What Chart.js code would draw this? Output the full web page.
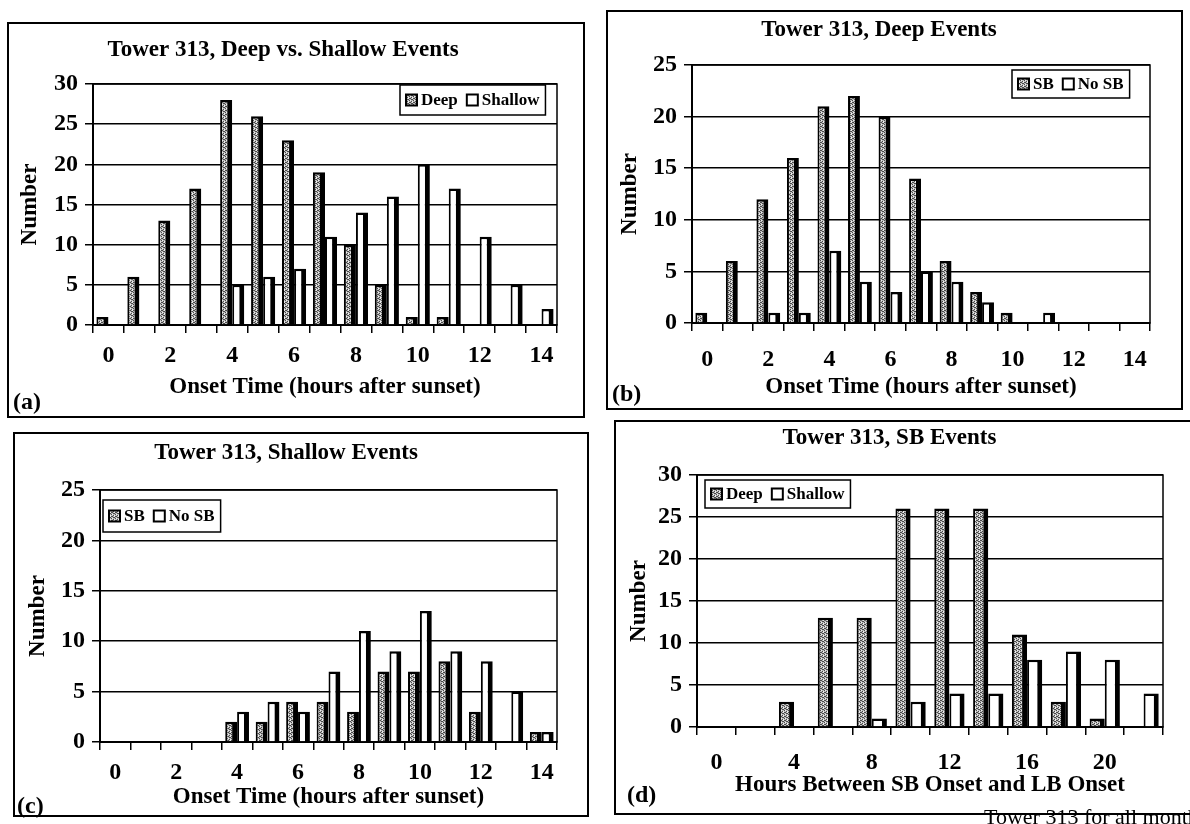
<!DOCTYPE html>
<html>
<head>
<meta charset="utf-8">
<script src="https://cdn.jsdelivr.net/npm/chart.js@4.4.0/dist/chart.umd.js"></script>
<style>
    html, body { margin: 0; padding: 0; background: #fff; }
    body { width: 1190px; height: 824px; position: relative; overflow: hidden; font-family: 'Liberation Serif', 'Times New Roman', serif; }
    .panel { position: absolute; border: 2px solid #000; box-sizing: border-box; background: #fff; }
    .panel canvas { position: absolute; left: 0; top: 0; }
    .tag { position: absolute; font-weight: bold; font-size: 24px; line-height: 1; color: #000; }
    .caption { position: absolute; left: 984px; top: 804px; font-size: 22px; white-space: nowrap; color: #000; }
</style>
</head>
<body>
<div class="panel" id="pa"><canvas id="ca"></canvas></div>
<div class="panel" id="pb"><canvas id="cb"></canvas></div>
<div class="panel" id="pc"><canvas id="cc"></canvas></div>
<div class="panel" id="pd"><canvas id="cd"></canvas></div>
<div class="tag" style="left:13px; top:389px;">(a)</div>
<div class="tag" style="left:612px; top:381px;">(b)</div>
<div class="tag" style="left:17px; top:793px;">(c)</div>
<div class="tag" style="left:627px; top:782px;">(d)</div>
<div class="caption">Tower 313 for all months</div>
<script>
// Onset time categories (hours after sunset)
const onsetHours = ['0', '1', '2', '3', '4', '5', '6', '7', '8', '9', '10', '11', '12', '13', '14'];
// (a) all events
const deepAll    = [1, 6, 13, 17, 28, 26, 23, 19, 10, 5, 1, 1, 0, 0, 0];
const shallowAll = [0, 0, 0, 0, 5, 6, 7, 11, 14, 16, 20, 17, 11, 5, 2];
// (b) deep events
const deepSB   = [1, 6, 12, 16, 21, 22, 20, 14, 6, 3, 1, 0, 0, 0, 0];
const deepNoSB = [0, 0, 1, 1, 7, 4, 3, 5, 4, 2, 0, 1, 0, 0, 0];
// (c) shallow events
const shallowSB   = [0, 0, 0, 0, 2, 2, 4, 4, 3, 7, 7, 8, 3, 0, 1];
const shallowNoSB = [0, 0, 0, 0, 3, 4, 3, 7, 11, 9, 13, 9, 8, 5, 1];
// (d) hours between SB onset and LB onset
const lagHours  = ['0', '2', '4', '6', '8', '10', '12', '14', '16', '18', '20', '22'];
const sbDeep    = [0, 0, 3, 13, 13, 26, 26, 26, 11, 3, 1, 0];
const sbShallow = [0, 0, 0, 0, 1, 3, 4, 4, 8, 9, 8, 4];

const FONT = "'Liberation Serif', 'Times New Roman', serif";

// stippled grey fill like the scanned bars
function stipple() {
    const c = document.createElement('canvas');
    c.width = 4; c.height = 4;
    const g = c.getContext('2d');
    g.fillStyle = '#bdbdbd';
    g.fillRect(0, 0, 4, 4);
    g.fillStyle = '#4a4a4a';
    [[0, 0], [2, 1], [1, 2], [3, 3], [2, 3], [0, 2]].forEach(([x, y]) => g.fillRect(x, y, 1, 1));
    g.fillStyle = '#ececec';
    [[1, 0], [3, 1], [3, 2]].forEach(([x, y]) => g.fillRect(x, y, 1, 1));
    return g.createPattern(c, 'repeat');
}
const GREY = stipple();

// frame around the plot area
const plotFrame = {
    id: 'plotFrame',
    beforeDatasetsDraw(chart) {
        const { ctx, chartArea: a } = chart;
        ctx.save();
        ctx.strokeStyle = '#000';
        ctx.lineWidth = 1.5;
        ctx.strokeRect(a.left, a.top, a.right - a.left, a.bottom - a.top);
        ctx.restore();
    }
};

// boxed legend drawn inside the plot
const boxLegend = {
    id: 'boxLegend',
    afterDraw(chart, args, opts) {
        const ctx = chart.ctx;
        ctx.save();
        ctx.font = `bold 17px ${FONT}`;
        const pad = 6, sw = 11, gap = 4, sep = 9;
        const items = chart.data.datasets.map(ds => ({ ds, tw: ctx.measureText(ds.label).width }));
        const w = pad * 2 + items.reduce((s, it) => s + sw + gap + it.tw, 0) + sep * (items.length - 1);
        const h = opts.h;
        ctx.fillStyle = '#fff';
        ctx.fillRect(opts.x, opts.y, w, h);
        ctx.strokeStyle = '#000';
        ctx.lineWidth = 1.5;
        ctx.strokeRect(opts.x, opts.y, w, h);
        let x = opts.x + pad;
        const cy = opts.y + h / 2;
        items.forEach(it => {
            ctx.fillStyle = it.ds.backgroundColor;
            ctx.fillRect(x, cy - sw / 2, sw, sw);
            ctx.lineWidth = 2;
            ctx.strokeRect(x, cy - sw / 2, sw, sw);
            x += sw + gap;
            ctx.fillStyle = '#000';
            ctx.textBaseline = 'middle';
            ctx.fillText(it.ds.label, x, cy + 1);
            x += it.tw + sep;
        });
        ctx.restore();
    }
};

function barSet(label, data, fill) {
    return {
        label: label,
        data: data,
        backgroundColor: fill,
        borderColor: '#000',
        borderWidth: { left: 2, top: 2.5, right: 5, bottom: 0 },
        categoryPercentage: 0.78,
        barPercentage: 1.0
    };
}

// p: page coordinates of box, plot area and text centres
function makeChart(p, labels, datasets) {
    const el = document.getElementById('p' + p.id);
    el.style.left = p.box[0] + 'px';
    el.style.top = p.box[1] + 'px';
    el.style.width = p.box[2] + 'px';
    el.style.height = p.box[3] + 'px';
    const ox = p.box[0] + 2, oy = p.box[1] + 2;
    const W = p.box[2] - 4, H = p.box[3] - 4;
    const canvas = document.getElementById('c' + p.id);
    canvas.width = W; canvas.height = H;
    canvas.style.width = W + 'px'; canvas.style.height = H + 'px';

    const PL = p.plot[0] - ox, PT = p.plot[1] - oy, PR = p.plot[2] - ox, PB = p.plot[3] - oy;
    const tSize = 23, tLh = tSize * 1.2;
    const kSize = 24, kLh = kSize * 1.2;
    const aSize = 23, aLh = aSize * 1.2;
    const titleTop = (p.titleY - oy) - tLh / 2;

    new Chart(canvas, {
        type: 'bar',
        data: { labels: labels, datasets: datasets },
        options: {
            responsive: false,
            animation: false,
            layout: { padding: { left: 0, top: 0, bottom: 0, right: W - PR } },
            plugins: {
                legend: { display: false },
                tooltip: { enabled: false },
                title: {
                    display: true,
                    text: p.title,
                    color: '#000',
                    font: { family: FONT, size: tSize, weight: 'bold' },
                    padding: { top: titleTop, bottom: PT - titleTop - tLh }
                },
                boxLegend: { x: p.legend[0] - ox, y: p.legend[1] - oy, h: p.legend[2] }
            },
            scales: {
                x: {
                    grid: { display: true, drawOnChartArea: false, drawTicks: true, tickLength: 8, offset: true, color: '#000', lineWidth: 1.5 },
                    border: { display: true, color: '#000', width: 2 },
                    ticks: {
                        autoSkip: false,
                        maxRotation: 0,
                        color: '#000',
                        font: { family: FONT, size: kSize, weight: 'bold' },
                        padding: (p.tickY - oy) - PB - 8 - kLh / 2,
                        callback: function (val, idx) { return idx % 2 === 0 ? this.getLabelForValue(val) : ''; }
                    },
                    title: {
                        display: true,
                        text: p.xTitle,
                        color: '#000',
                        font: { family: FONT, size: aSize, weight: 'bold' },
                        padding: { top: 0, bottom: H - (p.xTitleY - oy) - aLh / 2 }
                    },
                    afterFit(scale) { scale.height = H - PB; }
                },
                y: {
                    min: 0,
                    max: p.yMax,
                    grid: { color: '#000', lineWidth: 1.5, drawTicks: true, tickLength: 8 },
                    border: { display: true, color: '#000', width: 2 },
                    ticks: {
                        stepSize: 5,
                        color: '#000',
                        padding: 7,
                        font: { family: FONT, size: kSize, weight: 'bold' }
                    },
                    title: {
                        display: true,
                        text: 'Number',
                        color: '#000',
                        font: { family: FONT, size: aSize, weight: 'bold' },
                        padding: { top: (p.yTitleX - ox) - aLh / 2, bottom: 0 }
                    },
                    afterFit(scale) { scale.width = PL; }
                }
            }
        },
        plugins: [plotFrame, boxLegend]
    });
}

makeChart({
    id: 'a', box: [7, 22, 578, 396], plot: [93, 84, 557, 325], yMax: 30,
    title: 'Tower 313, Deep vs. Shallow Events', titleY: 50, tickY: 356,
    xTitle: 'Onset Time (hours after sunset)', xTitleY: 387, yTitleX: 30, legend: [400, 85, 30]
}, onsetHours, [barSet('Deep', deepAll, GREY), barSet('Shallow', shallowAll, '#fff')]);

makeChart({
    id: 'b', box: [606, 10, 577, 400], plot: [692, 65, 1150, 323], yMax: 25,
    title: 'Tower 313, Deep Events', titleY: 30, tickY: 360,
    xTitle: 'Onset Time (hours after sunset)', xTitleY: 387, yTitleX: 630, legend: [1012, 70, 28]
}, onsetHours, [barSet('SB', deepSB, GREY), barSet('No SB', deepNoSB, '#fff')]);

makeChart({
    id: 'c', box: [13, 432, 576, 385], plot: [100, 490, 557, 742], yMax: 25,
    title: 'Tower 313, Shallow Events', titleY: 453, tickY: 773,
    xTitle: 'Onset Time (hours after sunset)', xTitleY: 797, yTitleX: 38, legend: [103, 500, 32]
}, onsetHours, [barSet('SB', shallowSB, GREY), barSet('No SB', shallowNoSB, '#fff')]);

makeChart({
    id: 'd', box: [614, 420, 590, 395], plot: [697, 475, 1163, 727], yMax: 30,
    title: 'Tower 313, SB Events', titleY: 438, tickY: 763,
    xTitle: 'Hours Between SB Onset and LB Onset', xTitleY: 785, yTitleX: 639, legend: [705, 480, 28]
}, lagHours, [barSet('Deep', sbDeep, GREY), barSet('Shallow', sbShallow, '#fff')]);
</script>
</body>
</html>
